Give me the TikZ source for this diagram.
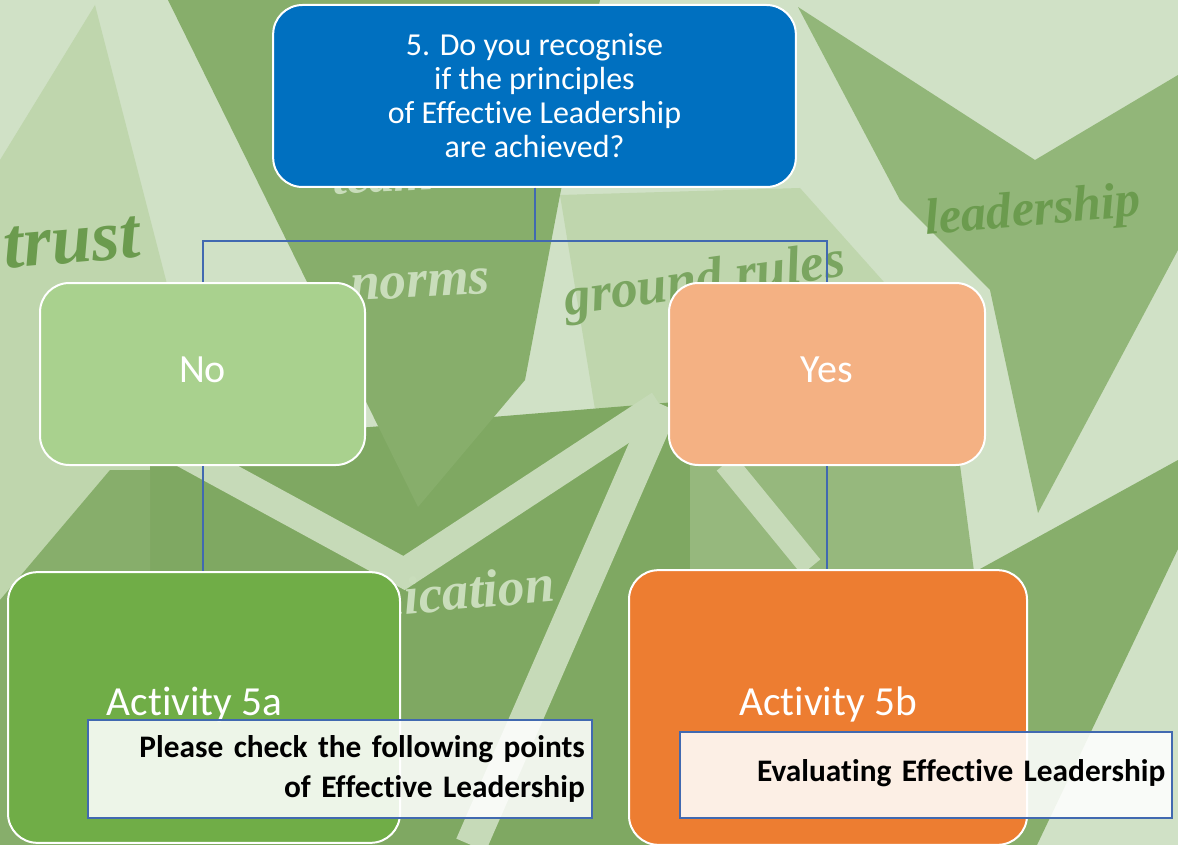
\documentclass[tikz,border=0pt]{standalone}
\usepackage{fontspec}
\setmainfont{Carlito}[Ligatures=NoCommon]
\newfontfamily\handfont{Liberation Serif}
\usepackage{tikz}
\definecolor{qblue}{HTML}{0070C0}
\definecolor{nogreen}{HTML}{A9D18E}
\definecolor{yesorange}{HTML}{F4B183}
\definecolor{agreen}{HTML}{70AD47}
\definecolor{borange}{HTML}{ED7D31}
\definecolor{lineblue}{HTML}{4169B0}
\definecolor{bglight}{HTML}{D0E1C6}
\definecolor{bgband}{HTML}{C6DAB8}
\definecolor{bgmid}{HTML}{BFD6AD}
\definecolor{bgdark}{HTML}{87AE6B}
\definecolor{bgdeep}{HTML}{7FA862}
\definecolor{inkdark}{HTML}{6B9B4E}
\definecolor{inklight}{HTML}{C9DDBB}
\tikzstyle{box} = [rounded corners=22pt, draw=white, line width=1.5pt, text=white, align=center]
\tikzstyle{note} = [draw=lineblue, line width=1.5pt, fill=white, fill opacity=0.88, text opacity=1, inner xsep=5pt, align=right, font=\bfseries\fontsize{23.5}{30}\selectfont]
\tikzstyle{link} = [draw=lineblue, line width=1.5pt]
\tikzstyle{word} = [inner sep=0pt]
\newcommand{\hand}[1]{\fontsize{#1}{#1}\selectfont\handfont\itshape\bfseries}

\begin{document}
\begin{tikzpicture}[x=0.75pt, y=-0.75pt]
\useasboundingbox (0,0) rectangle (1178,845);
\fill[bglight] (0,0) rectangle (1178,845);
\fill[bgmid] (95,5) -- (215,470) -- (0,660) -- (0,160) -- cycle;
\fill[bgmid] (560,195) -- (800,188) -- (900,300) -- (760,470) -- (600,440) -- cycle;
\fill[bgdark!85!bglight] (798,7) -- (1035,160) -- (1178,75) -- (1178,250) -- (1038,513) -- (990,290) -- (900,200) -- cycle;
\fill[bgdeep] (150,445) -- (700,400) -- (700,845) -- (150,845) -- cycle;
\fill[bgdark] (0,600) -- (110,470) -- (150,470) -- (150,845) -- (0,845) -- cycle;
\fill[bgdark!80!bglight] (690,465) -- (960,465) -- (1010,845) -- (690,845) -- cycle;
\fill[bgdark] (960,580) -- (1178,460) -- (1178,549) -- (1037,845) -- (960,845) -- cycle;
\draw[bgband, line width=22pt] (160,440) -- (404,573) -- (660,405);
\draw[bgband, line width=24pt] (663,405) -- (471,845);
\draw[bgband, line width=18pt] (726,463) -- (811,567);
\fill[bgdark] (168,0) -- (600,0) -- (560,195) -- (525,380) -- (418,507) -- cycle;

\node[word, text=inkdark, font=\hand{54}, rotate=5] (wtrust) at (72,243) {trust};
\node[word, text=inkdark, font=\hand{38}, rotate=5] (wlead) at (1033,213) {leadership};
\node[word, text=inkdark!85!bglight, font=\hand{40}, rotate=8] (wground) at (705,283) {ground rules};
\node[word, text=inklight, font=\hand{40}, rotate=3] (wnorms) at (420,285) {norms};
\node[word, text=inklight, font=\hand{38}, rotate=3] (wteam) at (383,178) {team};
\node[word, text=inklight, font=\hand{40}, rotate=5] (wcomm) at (383,598) {communication};

\node[box, fill=qblue, minimum width=392pt, minimum height=136.5pt, font=\fontsize{24}{25.5}\selectfont] (q) at (534.5,96)
  {5. Do you recognise\\ if the principles\\ of Effective Leadership\\ are achieved?};
\node[box, fill=nogreen, minimum width=243.75pt, minimum height=136.5pt, font=\fontsize{30}{30}\selectfont] (no) at (202.5,374) {\raisebox{7pt}{No}};
\node[box, fill=yesorange, minimum width=237pt, minimum height=136.5pt, font=\fontsize{30}{30}\selectfont] (yes) at (827,374) {\raisebox{7pt}{Yes}};
\node[box, fill=agreen, minimum width=294pt, minimum height=203pt, font=\fontsize{31}{31}\selectfont] (acta) at (204,707.5) {\raisebox{10pt}{Activity 5a}\hspace*{14pt}};
\node[box, fill=borange, minimum width=298.5pt, minimum height=206pt, font=\fontsize{31}{31}\selectfont] (actb) at (828,707.5) {\raisebox{10pt}{Activity 5b}};

\draw[link] (q.south) -- ++(0,53) -| (no.north);
\draw[link] (q.south) -- ++(0,53) -| (yes.north);
\draw[link] (no.south) -- (no.south |- acta.north);
\draw[link] (yes.south) -- (yes.south |- actb.north);

\node[note, text width=368pt, minimum height=73.5pt] (pointsa) at (339.5,769)
  {Please check the following points\\ of Effective Leadership};
\node[note, text width=359pt, minimum height=64.5pt] (evalb) at (926,775)
  {\raisebox{6pt}{Evaluating Effective Leadership}};
\end{tikzpicture}
\end{document}
